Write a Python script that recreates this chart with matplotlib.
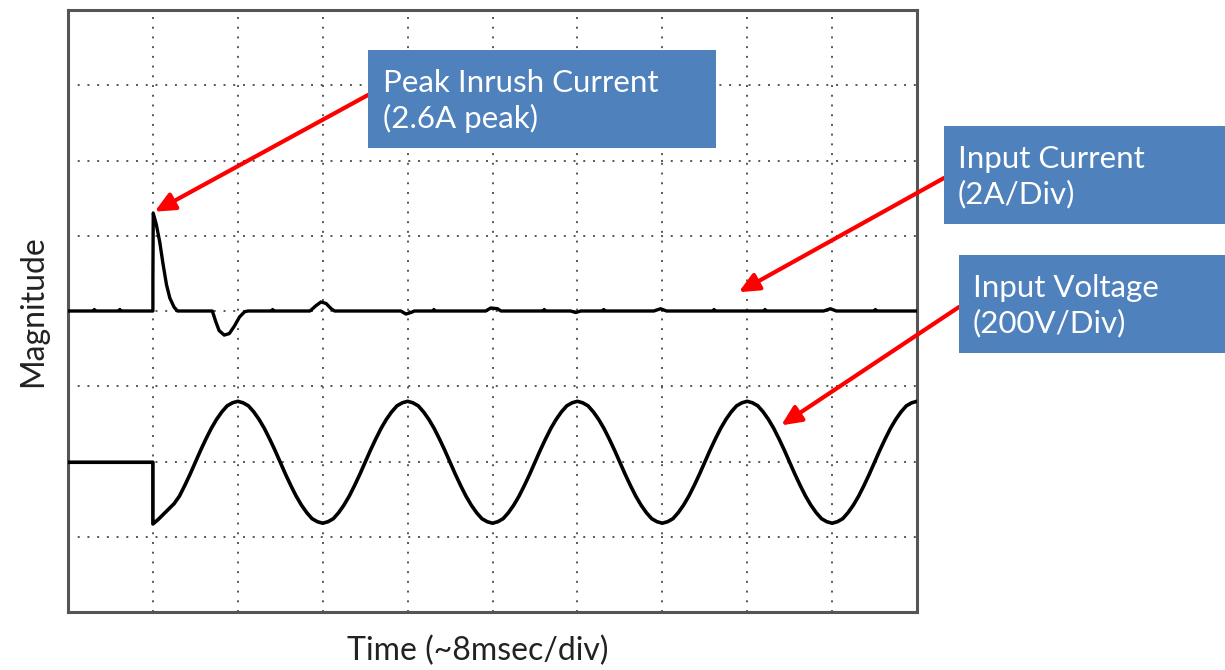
import numpy as np
import matplotlib.pyplot as plt
from matplotlib.patches import Rectangle

plt.rcParams['font.family'] = ['Lato', 'DejaVu Sans']

# ---------------- data (in scope divisions) ----------------
# input current trace, baseline at 4 div, 2A/div
cur_x = [0.0, 0.3, 0.31, 0.32, 0.6, 0.61, 0.62, 1.0, 1.0, 1.004, 1.04, 1.08, 1.12, 1.16, 1.20, 1.25, 1.29,
         1.70, 1.74, 1.78, 1.84, 1.90, 1.96, 2.02, 2.08, 2.12, 2.40, 2.41, 2.42,
         2.85, 2.92, 2.98, 3.04, 3.10, 3.14, 3.92, 3.98, 4.04, 4.08, 4.3, 4.31, 4.32,
         4.92, 4.98, 5.06, 5.10, 5.6, 5.61, 5.62, 5.92, 5.98, 6.04, 6.3, 6.31, 6.32,
         6.90, 6.98, 7.05, 7.6, 7.61, 7.62, 8.2, 8.21, 8.22, 8.90, 8.98, 9.05, 9.5, 9.51, 9.52, 10.0]
cur_y = [4.0, 4.0, 4.02, 4.0, 4.0, 4.02, 4.0, 4.0, 4.42, 5.30, 5.15, 4.92, 4.62, 4.35, 4.17, 4.05, 4.0,
         4.0, 3.86, 3.74, 3.68, 3.70, 3.80, 3.92, 3.99, 4.0, 4.0, 4.02, 4.0,
         4.0, 4.07, 4.12, 4.10, 4.03, 4.0, 4.0, 3.96, 3.98, 4.0, 4.0, 4.02, 4.0,
         4.0, 4.04, 4.03, 4.0, 4.0, 4.02, 4.0, 4.0, 3.98, 4.0, 4.0, 4.02, 4.0,
         4.0, 4.03, 4.0, 4.0, 4.02, 4.0, 4.0, 4.02, 4.0, 4.0, 4.03, 4.0, 4.0, 4.02, 4.0, 4.0]

# input voltage trace, 200V/div: flat until switch-on at 1 div, then sampled every 1/16 div
volt_x = [0.0, 1.0] + list(np.arange(1.0, 10.0001, 0.0625))
volt_y = [1.99, 1.99,
          1.17, 1.23, 1.30, 1.37, 1.44, 1.54, 1.68, 1.83, 1.99, 2.15, 2.30, 2.44, 2.56, 2.66, 2.74, 2.78,
          2.80, 2.78, 2.74, 2.66, 2.56, 2.44, 2.30, 2.15, 1.99, 1.83, 1.68, 1.54, 1.42, 1.32, 1.24, 1.20,
          1.18, 1.20, 1.24, 1.32, 1.42, 1.54, 1.68, 1.83, 1.99, 2.15, 2.30, 2.44, 2.56, 2.66, 2.74, 2.78,
          2.80, 2.78, 2.74, 2.66, 2.56, 2.44, 2.30, 2.15, 1.99, 1.83, 1.68, 1.54, 1.42, 1.32, 1.24, 1.20,
          1.18, 1.20, 1.24, 1.32, 1.42, 1.54, 1.68, 1.83, 1.99, 2.15, 2.30, 2.44, 2.56, 2.66, 2.74, 2.78,
          2.80, 2.78, 2.74, 2.66, 2.56, 2.44, 2.30, 2.15, 1.99, 1.83, 1.68, 1.54, 1.42, 1.32, 1.24, 1.20,
          1.18, 1.20, 1.24, 1.32, 1.42, 1.54, 1.68, 1.83, 1.99, 2.15, 2.30, 2.44, 2.56, 2.66, 2.74, 2.78,
          2.80, 2.78, 2.74, 2.66, 2.56, 2.44, 2.30, 2.15, 1.99, 1.83, 1.68, 1.54, 1.42, 1.32, 1.24, 1.20,
          1.18, 1.20, 1.24, 1.32, 1.42, 1.54, 1.68, 1.83, 1.99, 2.15, 2.30, 2.44, 2.56, 2.66, 2.74, 2.78,
          2.80]

labels = ["Peak Inrush Current\n(2.6A peak)", "Input Current\n(2A/Div)", "Input Voltage\n(200V/Div)"]

W, H = 1225, 670
BOX_COLOR = "#4F81BD"

def fx(px):
    return px / W

def fy(py):
    return 1 - py / H

fig = plt.figure(figsize=(W / 100, H / 100), dpi=100)
ax = fig.add_axes([fx(68), fy(612), fx(917) - fx(68), fy(10) - fy(612)])

ax.set_xlim(0, 10)
ax.set_ylim(0, 8)
for gx in range(1, 10):
    ax.axvline(gx, color="#555555", linestyle=(0, (1, 4)), linewidth=1.4, zorder=1)
for gy in range(1, 8):
    ax.axhline(gy, color="#555555", linestyle=(0, (1, 4)), linewidth=1.4, zorder=1)

ax.plot(cur_x, cur_y, color="black", linewidth=2.4, zorder=3)
ax.plot(volt_x, volt_y, color="black", linewidth=2.6, zorder=3)

ax.set_xticks([])
ax.set_yticks([])
for sp in ax.spines.values():
    sp.set_color("#555555")
    sp.set_linewidth(2.2)

ax.set_xlabel("Time (~8msec/div)", fontsize=23, color="#222222")
ax.set_ylabel("Magnitude", fontsize=23, labelpad=14, color="#222222")
ax.xaxis.set_label_coords(0.483, -0.04)
ax.xaxis.label.set_va("top")

# annotation boxes (left, top, right, bottom in pixels) and text start
boxes = [(368, 50, 716, 148, 383), (944, 126, 1225, 224, 958), (959, 255, 1225, 353, 973)]
for (l, t, r, b, tx), lab in zip(boxes, labels):
    fig.add_artist(Rectangle((fx(l), fy(b)), fx(r) - fx(l), fy(t) - fy(b),
                             transform=fig.transFigure, facecolor=BOX_COLOR,
                             edgecolor="none", zorder=5))
    fig.text(fx(tx), fy((t + b) / 2 + 2), lab, color="white", fontsize=22.5,
             va="center", ha="left", linespacing=1.3, zorder=6)

# arrows: tail in pixels, head at the trace
arrows = [((368, 95), (1.02, 5.32)), ((944, 178), (7.9, 4.25)), ((959, 307), (8.4, 2.48))]
for (px, py), (hx, hy) in arrows:
    ax.annotate("", xy=(hx, hy), xycoords="data",
                xytext=(fx(px), fy(py)), textcoords="figure fraction",
                arrowprops=dict(arrowstyle="-|>,head_length=1.2,head_width=0.55",
                                color="#FF0000", linewidth=3, shrinkA=0, shrinkB=0),
                annotation_clip=False, zorder=7)

fig.savefig("out.png", dpi=100)
